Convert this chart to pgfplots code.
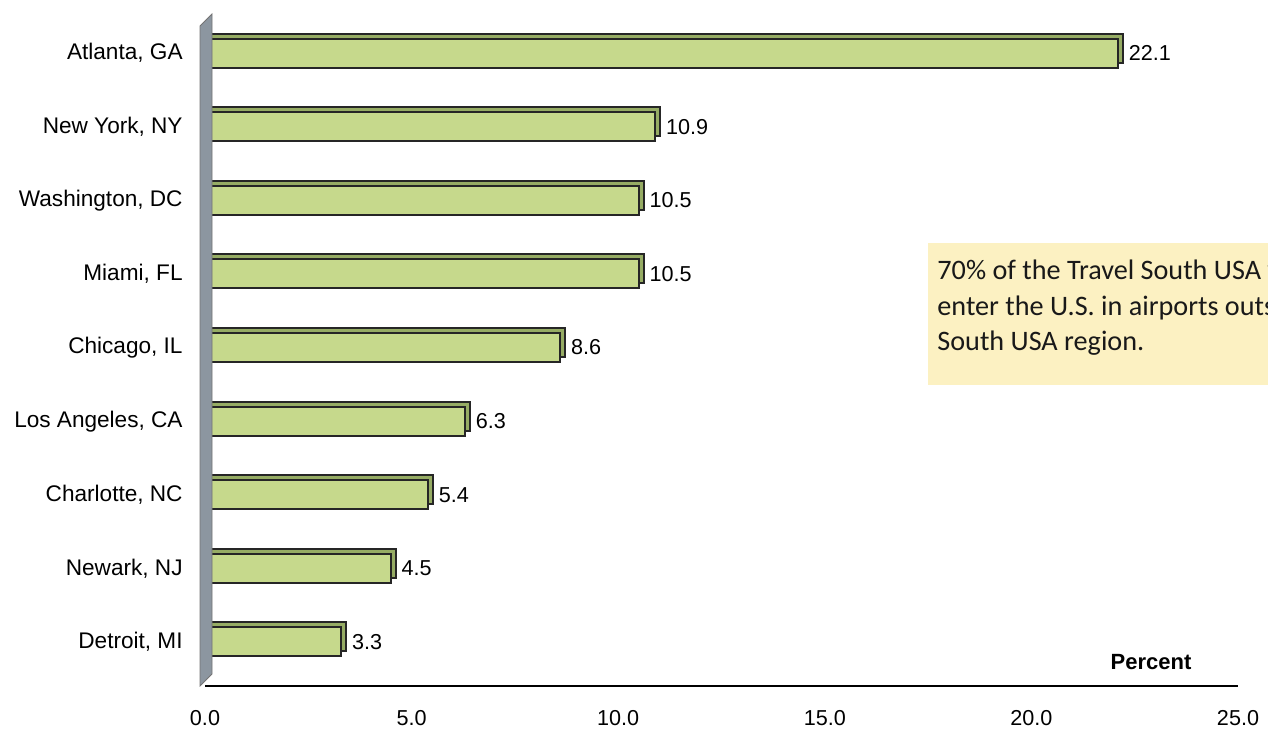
\documentclass[border=0pt]{standalone}
\usepackage{fontspec}
\setmainfont{Liberation Sans}
\newfontfamily\calibri{Carlito}
\usepackage{pgfplots}
\pgfplotsset{compat=1.18}

\definecolor{barfill}{RGB}{198,217,140}
\definecolor{barside}{RGB}{150,172,100}
\definecolor{wallgray}{RGB}{140,150,160}
\definecolor{notefill}{RGB}{252,241,194}

\begin{document}
\begin{tikzpicture}
\begin{axis}[
    at={(0,0)}, anchor=south west,
    scale only axis,
    width=516.5pt, height=338.5pt,
    xmin=0, xmax=25,
    ymin=-0.6, ymax=8.6,
    axis y line=none,
    axis x line*=bottom,
    x axis line style={-, black, line width=0.8pt},
    xtick={0,5,10,15,20,25},
    xtick style={draw=none},
    ytick={0,...,8},
    yticklabels={{Detroit, MI},{Newark, NJ},{Charlotte, NC},{Los Angeles, CA},{Chicago, IL},{Miami, FL},{Washington, DC},{New York, NY},{Atlanta, GA}},
    xticklabel style={font=\fontsize{10.8}{12}\selectfont, inner sep=0pt, yshift=-12pt},
    /pgf/number format/.cd, fixed, fixed zerofill, precision=1, assume math mode=true,
]
% back faces (3D look)
\addplot[xbar, bar width=14.5pt, fill=barside, draw=black!85, line width=1pt,
    xshift=2.5pt, yshift=2.5pt] coordinates {
(3.3,0) (4.5,1) (5.4,2) (6.3,3) (8.6,4) (10.5,5) (10.5,6) (10.9,7) (22.1,8)};
% front faces
\addplot[xbar, bar width=14.5pt, fill=barfill, draw=black!85, line width=1pt,
    nodes near coords,
    nodes near coords style={font=\fontsize{10.8}{12}\selectfont, anchor=west, xshift=1.5pt,
      /pgf/number format/.cd, fixed, fixed zerofill, precision=1, assume math mode=true}]
coordinates {
(3.3,0) (4.5,1) (5.4,2) (6.3,3) (8.6,4) (10.5,5) (10.5,6) (10.9,7) (22.1,8)};
\end{axis}
% category labels
\foreach \lab [count=\i from 0] in {{Detroit, MI},{Newark, NJ},{Charlotte, NC},{Los Angeles, CA},{Chicago, IL},{Miami, FL},{Washington, DC},{New York, NY},{Atlanta, GA}}{
  \node[anchor=east, inner sep=0pt, font=\fontsize{11.3}{13}\selectfont]
    at (-11pt, {22pt + \i*36.8pt}) {\lab};
}
% wall
\fill[wallgray, draw=black!55, line width=0.4pt]
  (-2.5pt,0pt) -- (-2.5pt,330pt) -- (3.5pt,336pt) -- (3.5pt,6pt) -- cycle;
% x label
\node[font=\bfseries\fontsize{11}{13}\selectfont, inner sep=0pt, anchor=south] at (473pt,8pt) {Percent};
% note box, cut at the right edge as in the original
\begin{scope}
\clip (-102.5pt,-24pt) rectangle (531.5pt,343pt);
\fill[notefill] (361.5pt,150.5pt) rectangle (560pt,221.5pt);
\node[anchor=north west, inner sep=0pt, align=left, font=\calibri\fontsize{14.1}{17.6}\selectfont, text=black!90]
  at (366pt,213pt) {70\% of the Travel South USA visitors\\enter the U.S. in airports outside the\\South USA region.};
\end{scope}
\pgfresetboundingbox
\useasboundingbox (-102.5pt,-24pt) rectangle (531.5pt,343pt);
\end{tikzpicture}
\end{document}
